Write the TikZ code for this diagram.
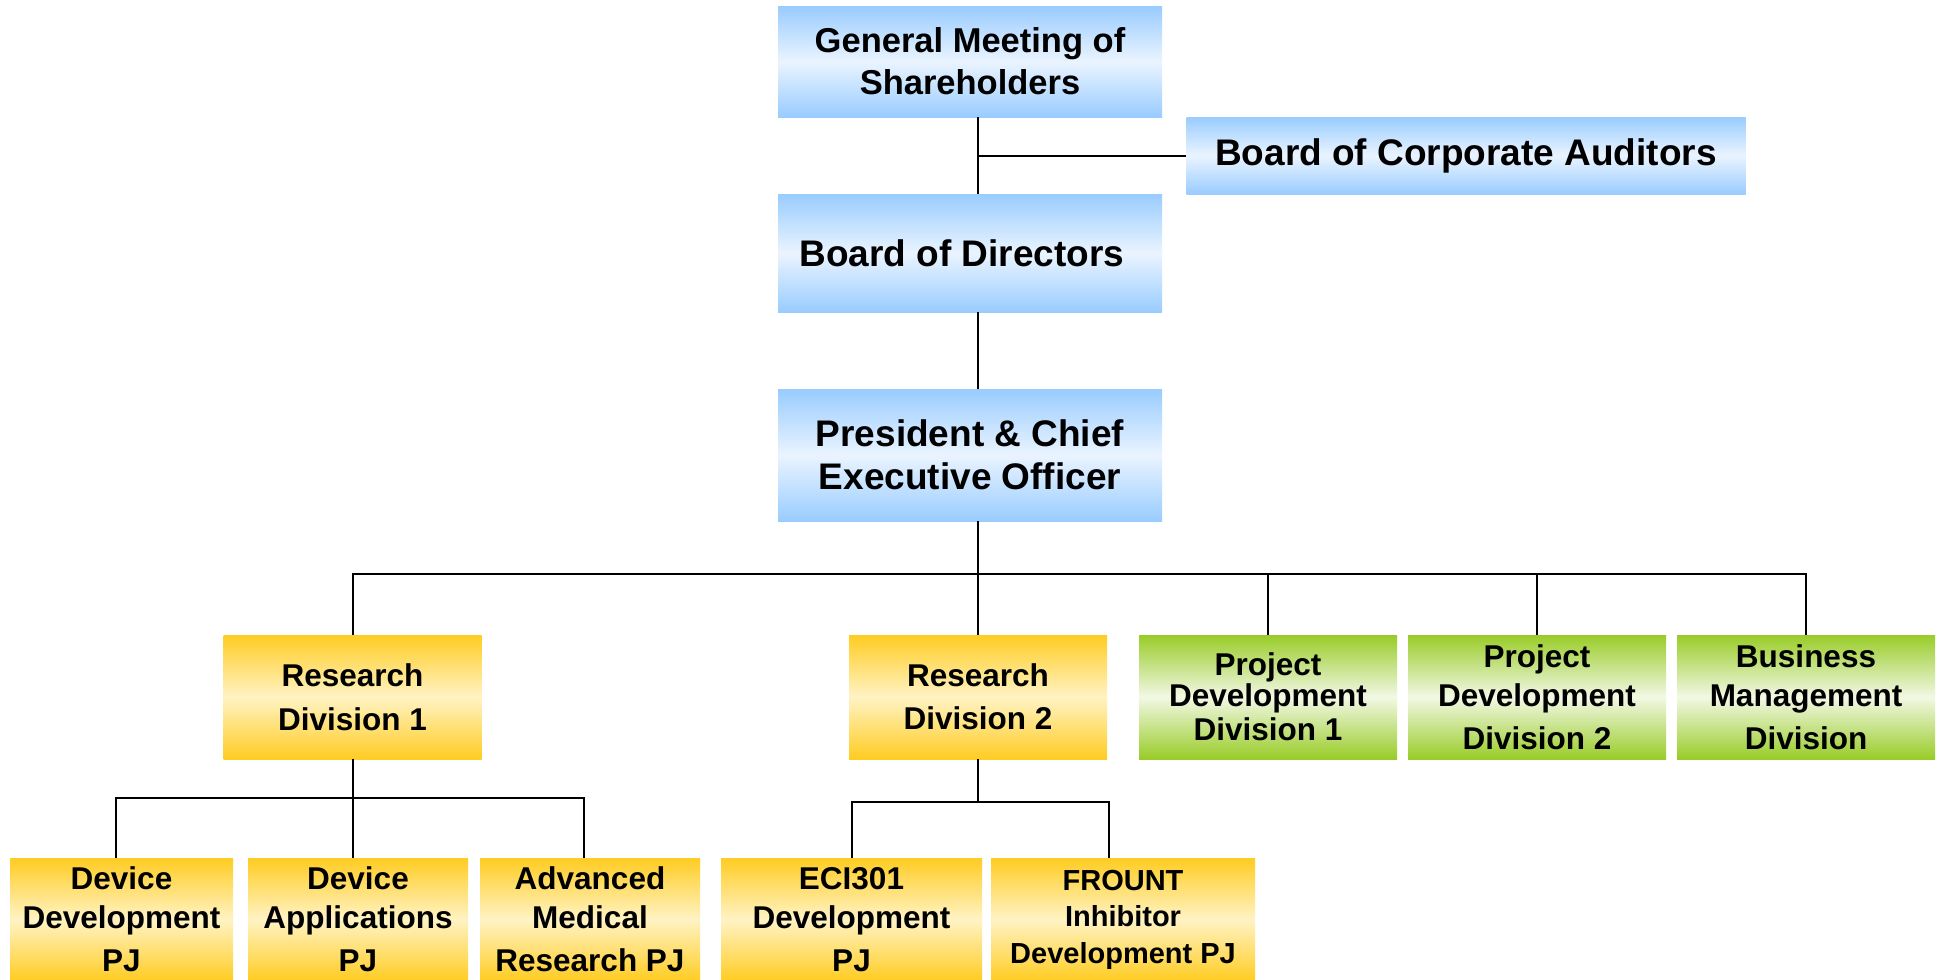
\documentclass[tikz,border=0pt]{standalone}
\usepackage{fontspec}
\setmainfont{Liberation Sans}
\definecolor{bluee}{HTML}{99CCFF}
\definecolor{bluem}{HTML}{EAF4FF}
\definecolor{yele}{HTML}{FFCC22}
\definecolor{yelm}{HTML}{FFF3C4}
\definecolor{grne}{HTML}{99CC29}
\definecolor{grnm}{HTML}{F2F8E4}
\begin{document}
\begin{tikzpicture}[x=0.5pt,y=-0.5pt,
  box/.style={inner sep=0pt, align=center},
  bluebox/.style={box, top color=bluee, bottom color=bluee, middle color=bluem},
  yelbox/.style={box, top color=yele, bottom color=yele, middle color=yelm},
  grnbox/.style={box, top color=grne, bottom color=grne, middle color=grnm},
  fbig/.style={font=\bfseries\fontsize{18.5}{21.5}\selectfont},
  fgms/.style={font=\bfseries\fontsize{17.25}{21}\selectfont},
  fmid/.style={font=\bfseries\fontsize{15.75}{15.5}\selectfont},
  fsmall/.style={font=\bfseries\fontsize{14.5}{14.5}\selectfont},
  rowtwo/.style={minimum width=129pt, minimum height=62pt},
  rowthree/.style={minimum height=61.5pt},
  link/.style={line width=1pt, draw=black}]
\useasboundingbox (0,0) rectangle (1944,980);
\fill[white] (0,0) rectangle (1944,980);

% top level
\node[bluebox, fgms, minimum width=192pt, minimum height=55.5pt] (gms) at (970,61.5) {General Meeting of\\Shareholders};
\node[bluebox, fbig, minimum width=279.5pt, minimum height=38.5pt] (bca) at (1466,155.5) {Board of Corporate Auditors};
\node[bluebox, fbig, minimum width=192pt, minimum height=59pt] (bod) at (970,253) {Board of Directors\hspace*{8pt}};
\node[bluebox, fbig, minimum width=192pt, minimum height=66pt] (pceo) at (970,455) {President \& Chief\\Executive Officer};

% row 2
\node[yelbox, fmid, rowtwo] (rd1) at (352.5,697) {Research\\[6.5pt]Division 1};
\node[yelbox, fmid, rowtwo] (rd2) at (978,697) {Research\\[6pt]Division 2};
\node[grnbox, fmid, rowtwo] (pdd1) at (1268,697) {Project\\[0pt]Development\\[1.5pt]Division 1};
\node[grnbox, fmid, rowtwo] (pdd2) at (1537,697) {Project\\[4pt]Development\\[6pt]Division 2};
\node[grnbox, fmid, rowtwo] (bmd) at (1806,697) {Business\\[4pt]Management\\[6pt]Division};

% row 3
\node[yelbox, fmid, rowthree, minimum width=111.5pt] (ddpj) at (121.5,919.5) {Device\\[4pt]Development\\[6pt]PJ};
\node[yelbox, fmid, rowthree, minimum width=110pt] (dapj) at (358,919.5) {Device\\[4pt]Applications\\[6pt]PJ};
\node[yelbox, fmid, rowthree, minimum width=110pt] (amrpj) at (590,919.5) {Advanced\\[4pt]Medical\\[6pt]Research PJ};
\node[yelbox, fmid, rowthree, minimum width=130.5pt] (eci) at (851.5,919.5) {ECI301\\[4pt]Development\\[6pt]PJ};
\node[yelbox, fsmall, rowthree, minimum width=132pt] (frount) at (1123,919.5) {FROUNT\\[3.5pt]Inhibitor\\[4pt]Development PJ};

% connectors
\coordinate (vx) at (978,0);
\coordinate (bus) at (0,574);
\coordinate (busa) at (0,798);
\coordinate (busb) at (0,802);
\draw[link] (gms.south -| vx) -- (bod.north -| vx);
\draw[link] (bca.west -| vx) -- (bca.west);
\draw[link] (bod.south -| vx) -- (pceo.north -| vx);
\draw[link] (pceo.south -| vx) -- (bus -| vx);
\draw[link] (rd1.north) -- (rd1.north |- bus) -- (bmd.north |- bus) -- (bmd.north);
\draw[link] (rd2.north |- bus) -- (rd2.north);
\draw[link] (pdd1.north |- bus) -- (pdd1.north);
\draw[link] (pdd2.north |- bus) -- (pdd2.north);

\draw[link] (rd1.south) -- (rd1.south |- dapj.north);
\draw[link] ([xshift=-3pt]ddpj.north) -- ([xshift=-3pt]ddpj.north |- busa) -- ([xshift=-3pt]amrpj.north |- busa) -- ([xshift=-3pt]amrpj.north);

\draw[link] (rd2.south) -- (rd2.south |- busb);
\draw[link] (eci.north) -- (eci.north |- busb) -- ([xshift=-7pt]frount.north |- busb) -- ([xshift=-7pt]frount.north);
\end{tikzpicture}
\end{document}
